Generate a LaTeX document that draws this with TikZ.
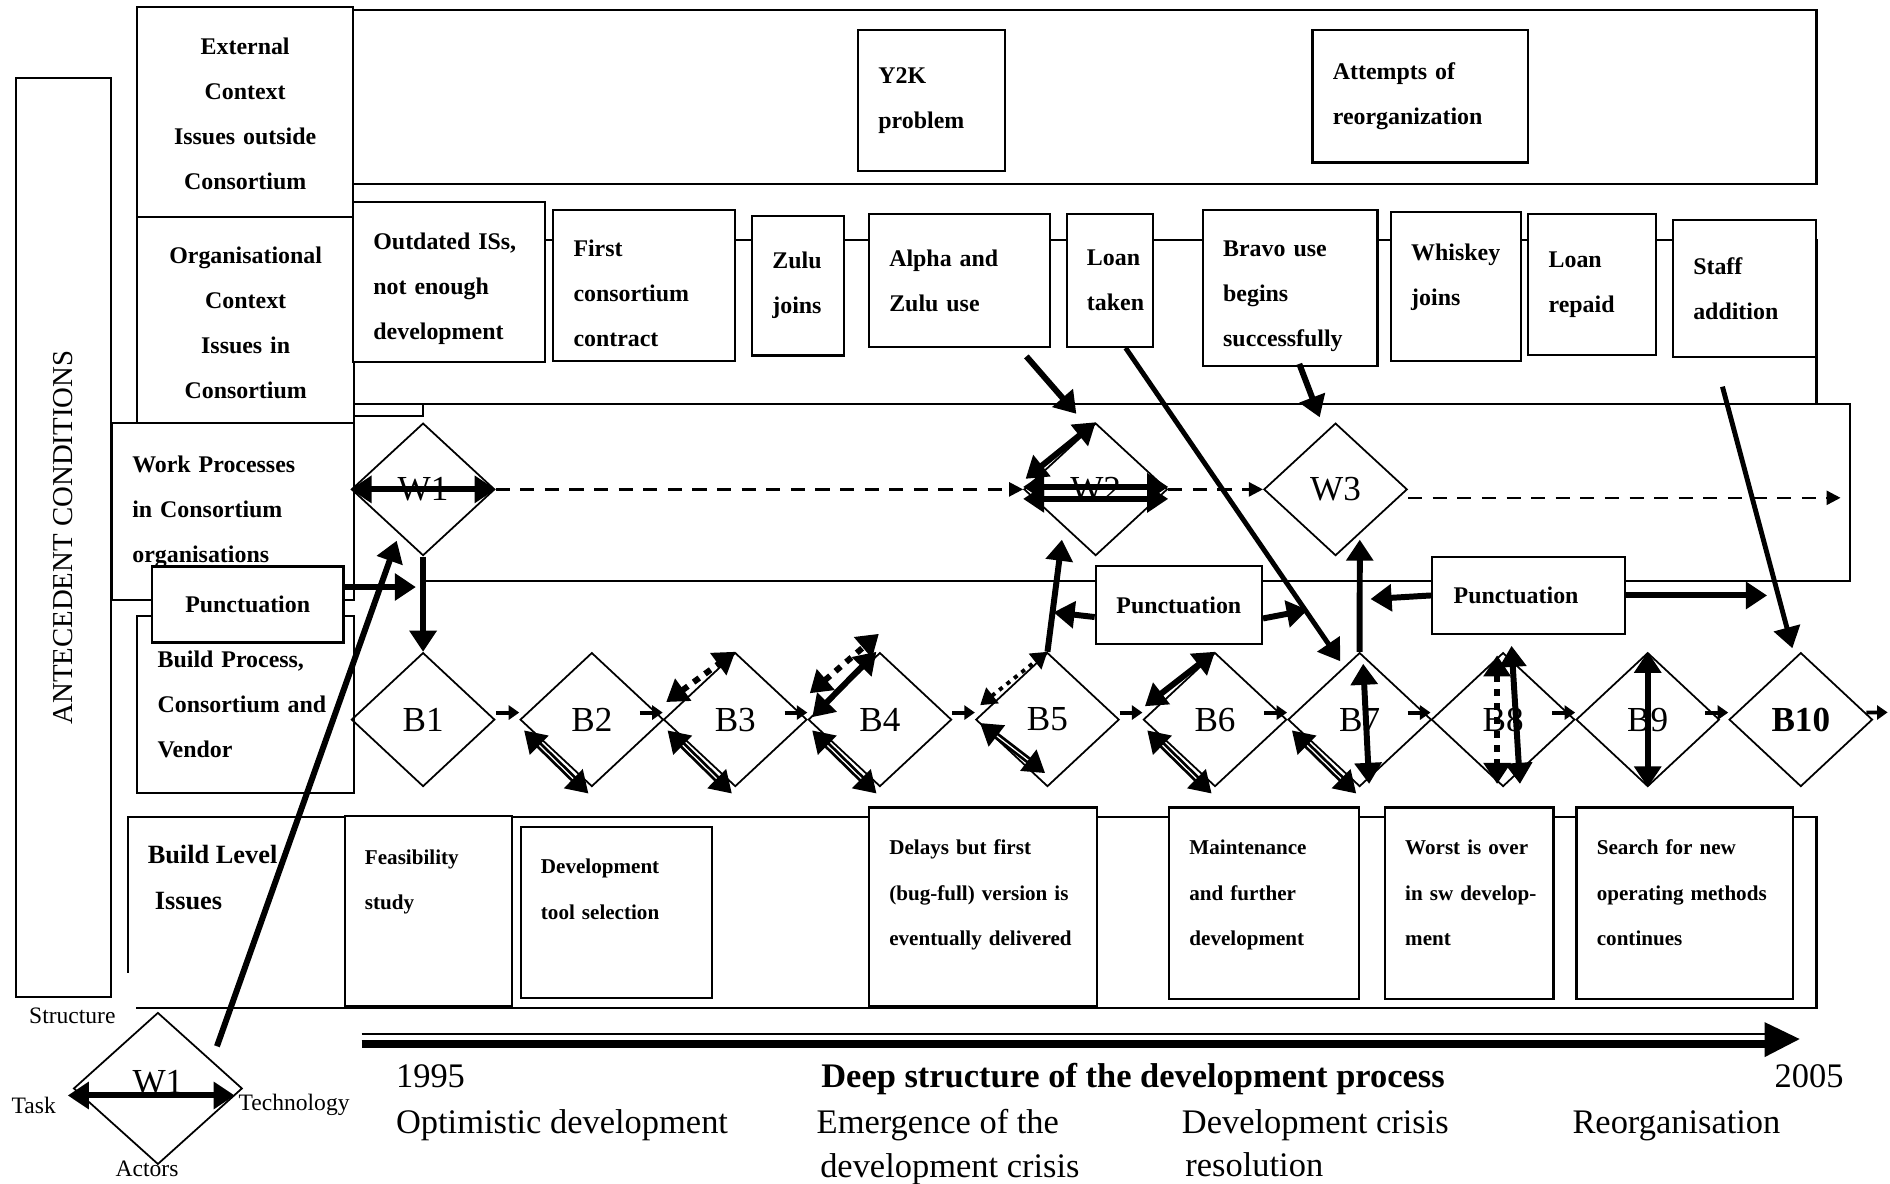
\documentclass[tikz,border=0pt]{standalone}
\usepackage{fontspec}
\setmainfont{Liberation Serif}
\usetikzlibrary{arrows.meta, shapes.geometric, calc}

\tikzset{
  box/.style={draw, fill=white, line width=0.6pt},
  lbl/.style={box, align=center, inner sep=0pt, font=\bfseries\fontsize{6.8}{12.8}\selectfont},
  punct/.style={lbl, font=\bfseries\fontsize{6.8}{8}\selectfont},
  ev/.style={box, anchor=north west, align=left, inner xsep=5.8pt, inner ysep=0pt, font=\bfseries\fontsize{6.8}{12.8}\selectfont},
  bl/.style={box, anchor=north west, align=left, inner xsep=5.8pt, inner ysep=0pt, font=\bfseries\fontsize{6}{13}\selectfont},
  dia/.style={diamond, draw, line width=0.5pt, inner sep=0pt, minimum width=40.8pt, minimum height=38.1pt, font=\fontsize{10}{12}\selectfont},
  fat/.style={line width=1.7pt, -{Triangle[length=6pt,width=7.5pt]}},
  fatboth/.style={line width=1.7pt, {Triangle[length=6pt,width=7.5pt]}-{Triangle[length=6pt,width=7.5pt]}},
  dblboth/.style={line width=0.8pt, double, double distance=0.35pt, {Triangle[length=6pt,width=7.5pt]}-{Triangle[length=6pt,width=7.5pt]}},
  dotboth/.style={fatboth, dash pattern=on 2pt off 2pt},
  dotthin/.style={line width=1.1pt, dash pattern=on 1.2pt off 1.5pt, {Triangle[length=4.5pt,width=5.5pt]}-{Triangle[length=4.5pt,width=5.5pt]}},
  nudge/.style={line width=1.1pt, -{Triangle[length=3pt,width=4pt]}},
  flow/.style={line width=0.7pt, dash pattern=on 4pt off 3pt, -{Triangle[length=4pt,width=4pt]}},
  txt/.style={inner sep=0pt, font=\fontsize{9.8}{12.3}\selectfont},
  legtxt/.style={inner sep=0pt, font=\fontsize{6.7}{8}\selectfont}
}

\begin{document}
\begin{tikzpicture}[x=0.012054cm, y=-0.012054cm]
  \useasboundingbox (0,0) rectangle (1568,982);

  % Level containers
  \draw[line width=0.6pt] (292,8) rectangle (1507,153);
  \draw[line width=0.6pt] (292,199) rectangle (1507,335);
  \draw[line width=0.6pt] (293,345) -- (351,345) -- (351,335) -- (1535,335) -- (1535,482) -- (351,482);
  \draw[line width=0.6pt] (106,807) -- (106,678) -- (1507,678) -- (1507,836) -- (113,836);

  % Left column
  \node[box, rotate=90, minimum width=261.4pt, minimum height=27.1pt, inner sep=0pt,
        font=\fontsize{8.2}{10}\selectfont] (ante) at (52.5,446) {ANTECEDENT CONDITIONS};
  \node[lbl, anchor=north west, text width=61.4pt, text height=13.4pt, text depth=46.3pt] (ext) at (113,5)
    {External\\Context\\Issues outside\\Consortium};
  \node[lbl, anchor=north west, text width=61.7pt, text height=13.4pt, text depth=45.2pt] (org) at (113,179)
    {Organisational\\Context\\Issues in\\Consortium};
  \node[ev, text width=57.3pt, minimum height=50.4pt] (work) at (92,350)
    {Work Processes\\in Consortium\\organisations};
  \node[ev, text width=50.1pt, minimum height=50.4pt] (bproc) at (113,510)
    {Build Process,\\Consortium and\\Vendor};
  \node[anchor=north west, align=left, inner sep=0pt, font=\bfseries\fontsize{7.5}{13}\selectfont]
    (blevel) at (122,701) {Build Level\\\hspace{2pt}Issues};

  % External events
  \node[ev, text width=30.2pt, minimum height=40.1pt] (y2k) at (711,24) {Y2K\\problem};
  \node[ev, text width=49.7pt, minimum height=37.7pt] (reorg) at (1088,24) {Attempts of\\reorganization};

  % Organisational events
  \node[ev, text width=42.9pt, text height=13.4pt, text depth=31.9pt] (outd) at (292,167) {Outdated ISs,\\not enough\\development};
  \node[ev, text width=40.1pt, text height=13.4pt, text depth=29.8pt] (first) at (458,173) {First\\consortium\\contract};
  \node[ev, text width=14.7pt, minimum height=39.8pt] (zulu) at (623,178) {Zulu\\joins};
  \node[ev, text width=39.8pt, minimum height=37.7pt] (alpha) at (720,177) {Alpha and\\Zulu\ use};
  \node[ev, text width=13pt, minimum height=37.7pt] (loan) at (884,177) {Loan\\taken};
  \node[ev, text width=38.1pt, text height=13.4pt, text depth=31.2pt] (bravo) at (997,173) {Bravo use\\begins\\successfully};
  \node[ev, text width=25.4pt, text height=13.7pt, text depth=28.8pt] (whisk) at (1153,175) {Whiskey\\joins};
  \node[ev, text width=24.7pt, minimum height=40.1pt] (repaid) at (1267,177) {Loan\\repaid};
  \node[ev, text width=29.2pt, minimum height=38.8pt] (staff) at (1387,182) {Staff\\addition};

  % Build level events
  \node[bl, text width=36pt, text height=13.7pt, text depth=40.5pt] (feas) at (285,676) {Feasibility\\study};
  \node[bl, text width=42.9pt, text height=13.4pt, text depth=35.3pt] (tool) at (431,685) {Development\\tool selection};
  \node[bl, text width=53.2pt, text height=13.4pt, text depth=43.2pt] (delay) at (720,669)
    {Delays but first\\\mbox{(bug-full) version\ is}\\\mbox{eventually\ delivered}};
  \node[bl, text width=42.5pt, text height=13.4pt, text depth=41.1pt] (maint) at (969,669) {Maintenance\\and further\\development};
  \node[bl, text width=36.4pt, text height=13.4pt, text depth=41.1pt] (worst) at (1148,669) {Worst is over\\\mbox{in sw develop-}\\ment};
  \node[bl, text width=50.1pt, text height=13.4pt, text depth=41.1pt] (search) at (1307,669)
    {Search for new\\\mbox{operating\ methods}\\continues};

  % Work process and build diamonds
  \node[dia, minimum height=37.7pt] (w1) at (351,406) {W1};
  \node[dia, minimum height=37.7pt] (w2) at (909,406) {W2};
  \node[dia, minimum height=37.7pt] (w3) at (1108,406) {W3};
  \foreach \n/\x in {1/351, 2/491, 3/610, 4/730, 5/869, 6/1008, 7/1128, 8/1247, 9/1367}
    \node[dia] (b\n) at (\x,597) {B\n};
  \node[dia, font=\bfseries\fontsize{10}{12}\selectfont] (b10) at (1494,597) {B10};

  % Punctuations
  \node[punct, minimum width=54.5pt, minimum height=21.6pt] (p1) at (205.5,501.5) {Punctuation};
  \node[punct, minimum width=47.3pt, minimum height=22pt] (p2) at (978,502) {Punctuation};
  \node[punct, minimum width=54.9pt, minimum height=22pt] (p3) at (1268,494) {\hspace{-7pt}Punctuation};

  % Legend
  \node[dia, minimum width=48pt, minimum height=43.2pt, text depth=4pt] (leg) at (131,903) {W1};
  \node[legtxt] (lstruct) at (60,843) {Structure};
  \node[legtxt] (ltask) at (28,917) {Task};
  \node[legtxt] (ltech) at (244,917) {Technology};
  \node[legtxt] (lact) at (122,970) {Actors};
  \draw[fatboth] ([xshift=-1.4pt,yshift=-2pt]leg.west) -- ([xshift=-2.4pt,yshift=-2pt]leg.east);

  % Time line
  \draw[line width=0.6pt] (300,858) -- (1468,858);
  \draw[line width=2.2pt] (300,866) -- (1468,866);
  \fill (1464,848) -- (1493,862) -- (1464,877) -- cycle;
  \node[txt, anchor=base west] (y95) at (328,902) {1995};
  \node[txt, anchor=base east] (y05) at (1530,902) {2005};
  \node[txt, anchor=base, font=\bfseries\fontsize{9.8}{12.3}\selectfont] (deep) at (940,902)
    {Deep structure of the development process};
  \node[txt, anchor=base west] (ph1) at (328,940) {Optimistic development};
  \node[txt, anchor=north west, align=left] (ph2) at (677,920) {Emergence of the\\\hspace{1pt}development crisis};
  \node[txt, anchor=north west, align=left] (ph3) at (980,920) {Development crisis\\\hspace{1pt}resolution};
  \node[txt, anchor=base west] (ph4) at (1304,940) {Reorganisation};

  % Free ends
  \coordinate (p1end) at (345,487);
  \coordinate (legtail) at (180,868);
  \coordinate (wend) at (1527,413);
  \coordinate (p2l) at (874,508);
  \coordinate (p2r) at (1085,506);
  \coordinate (p3l) at (1137,497);
  \coordinate (p3r) at (1466,494);
  \coordinate (bout) at (1566,591);

  % Work processes
  \draw[fatboth] (w1.west) -- (w1.east);
  \draw[flow] (w1.east) -- (w2.west);
  \draw[flow] (w2.east) -- (w3.west);
  \draw[flow] (w3.east |- wend) -- (wend);
  \draw[fatboth] ([yshift=0.7pt]w2.west) -- ([yshift=0.7pt]w2.east);
  \draw[fatboth] ([yshift=-2.7pt]w2.west) -- ([yshift=-2.7pt]w2.east);
  \draw[fatboth] ([xshift=0.7pt,yshift=3pt]w2.west) -- (w2.north);

  % Events into the process
  \draw[fat] ([xshift=-6.9pt,yshift=-2.4pt]alpha.south east) -- ([xshift=-5.5pt,yshift=2.4pt]w2.north);
  \draw[fat, line width=1.4pt] ([xshift=4.5pt]loan.south) -- ([xshift=-5.5pt,yshift=-2.7pt]b7.north);
  \draw[fat] ([xshift=2.6pt,yshift=1pt]bravo.south) -- ([xshift=-4.5pt,yshift=1.4pt]w3.north);
  \draw[fat, line width=1.4pt] ([xshift=-6.3pt,yshift=-8.2pt]staff.south) -- ([xshift=-2.4pt,yshift=1pt]b10.north);

  % Punctuations
  \draw[fat] (p1.east |- p1end) -- (p1end);
  \draw[fat] ([yshift=-3.4pt]p2.west) -- (p2l);
  \draw[fat] ([yshift=-3.8pt]p2.east) -- (p2r);
  \draw[fat] (p3.west) -- (p3l);
  \draw[fat] (p3.east) -- (p3r);

  % Between the levels
  \draw[fat] (w1.south) -- (b1.north);
  \draw[fat] (b5.north) -- ([xshift=-9.6pt,yshift=4.8pt]w2.south);
  \draw[fat] (b7.north) -- ([xshift=6.9pt,yshift=4.8pt]w3.south);

  % Build sequence
  \foreach \b in {b2,b3,b4,b5,b6,b7,b8,b9,b10}
    \draw[nudge] ([xshift=-6.5pt,yshift=2pt]\b.west) -- ([yshift=2pt]\b.west);
  \draw[nudge] ([xshift=-2pt,yshift=2pt]b10.east) -- (bout);
  \foreach \b in {b2,b3,b4,b6,b7}
    \draw[dblboth] ([xshift=1.4pt,yshift=-3.1pt]\b.west) -- ([xshift=-1pt,yshift=-1.7pt]\b.south);
  \draw[dblboth] ([xshift=1.5pt,yshift=-1pt]b5.west) -- ([xshift=-0.7pt,yshift=4.1pt]b5.south);
  \draw[dotboth] ([xshift=1pt,yshift=5pt]b3.west) -- (b3.north);
  \draw[fatboth] ([xshift=1.4pt,yshift=0.7pt]b4.west) -- ([xshift=-1pt]b4.north);
  \draw[dotboth] ([xshift=0.7pt,yshift=7.5pt]b4.west) -- ([xshift=-0.3pt,yshift=5.1pt]b4.north);
  \draw[dotthin] ([xshift=1.5pt,yshift=4.1pt]b5.west) -- (b5.north);
  \draw[fatboth] ([xshift=0.7pt,yshift=3.8pt]b6.west) -- (b6.north);
  \draw[fatboth] ([xshift=1pt,yshift=-3.4pt]b7.north) -- ([xshift=2.7pt,yshift=1pt]b7.south);
  \draw[dotboth] ([xshift=-1.7pt,yshift=-1pt]b8.north) -- ([xshift=-1.7pt,yshift=1pt]b8.south);
  \draw[fatboth] ([xshift=2.4pt,yshift=1.7pt]b8.north) -- ([xshift=4.8pt,yshift=1pt]b8.south);
  \draw[fatboth] (b9.north) -- (b9.south);

  % Legend to the first work process
  \draw[fat] (legtail) -- ([xshift=-7.5pt,yshift=4.5pt]w1.south);
\end{tikzpicture}
\end{document}
